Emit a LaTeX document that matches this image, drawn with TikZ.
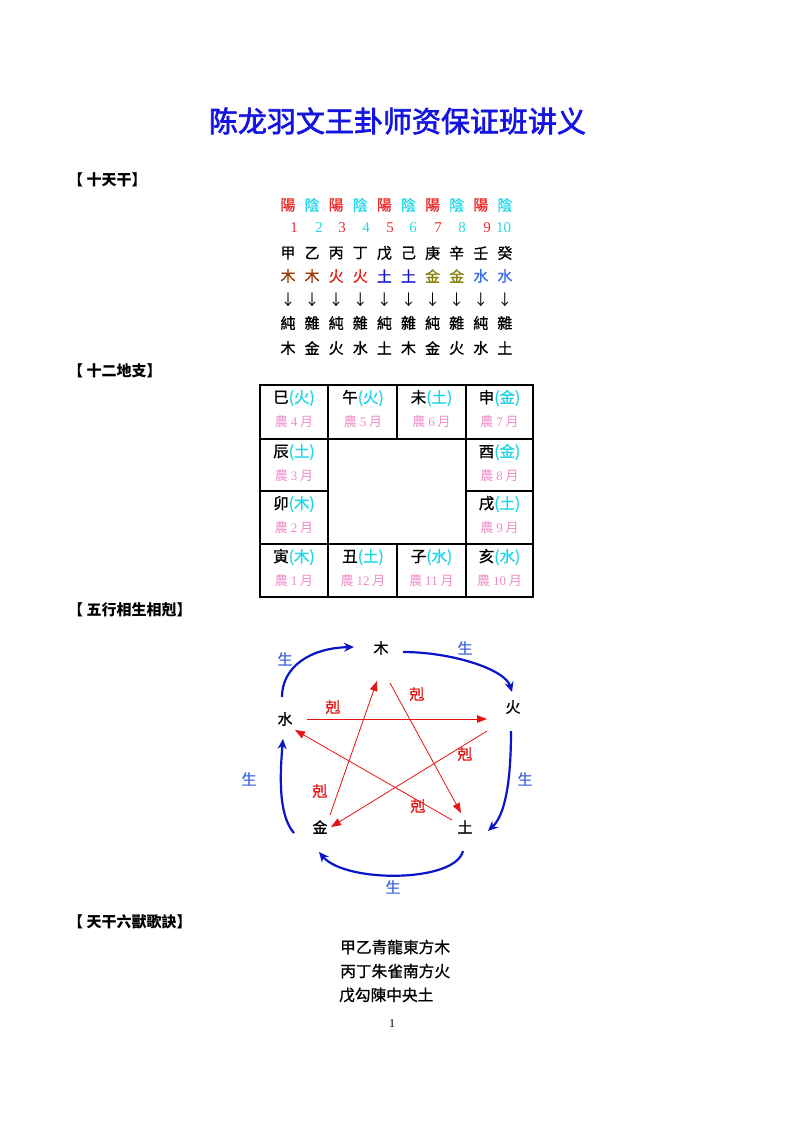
\documentclass[tikz,border=0pt]{standalone}
\usepackage{fontspec}
\usetikzlibrary{arrows.meta,calc}
\newfontfamily\cjk{Noto Sans CJK SC}[FakeBold=1.0]
\newfontfamily\cjkp{Noto Sans CJK SC}
\newfontfamily\cjkt{Noto Sans CJK SC}[FakeBold=2.2]
\newfontfamily\sernum{Liberation Serif}
\definecolor{yang}{RGB}{235,45,45}
\definecolor{yin}{RGB}{40,215,230}
\definecolor{wood}{RGB}{150,60,10}
\definecolor{fire}{RGB}{230,30,30}
\definecolor{earth}{RGB}{20,20,210}
\definecolor{metal}{RGB}{140,130,20}
\definecolor{water}{RGB}{60,110,240}
\definecolor{tcyan}{RGB}{30,215,230}
\definecolor{tpink}{RGB}{240,140,200}
\definecolor{ttl}{RGB}{20,20,225}
\definecolor{sarrow}{RGB}{10,20,200}
\definecolor{slabel}{RGB}{60,100,220}
\definecolor{karrow}{RGB}{230,20,20}
\tikzset{
  txt/.style={inner sep=0pt,font=\cjk\fontsize{15}{15}\selectfont},
  num/.style={inner sep=0pt,font=\sernum\fontsize{15}{15}\selectfont},
  head/.style={inner sep=0pt,anchor=west,font=\cjkp\bfseries\fontsize{15}{15}\selectfont},
  cellA/.style={inner sep=0pt,font=\cjk\fontsize{15.5}{15.5}\selectfont},
  cellB/.style={inner sep=0pt,text=tpink,font=\cjkp\fontsize{13}{13}\selectfont},
  grid/.style={line width=2pt,line cap=rect},
  elem/.style={inner sep=0pt,font=\cjk\fontsize{15}{15}\selectfont},
  sheng/.style={sarrow,line width=2.2pt,-{Stealth[length=10pt,width=9pt]}},
  ke/.style={karrow,line width=0.8pt,-{Triangle[length=10pt,width=7.5pt]}},
  slab/.style={inner sep=0pt,text=slabel,font=\cjk\fontsize{15}{15}\selectfont},
  klab/.style={inner sep=0pt,text=karrow,font=\cjk\fontsize{15}{15}\selectfont},
  arr/.style={inner sep=0pt,font=\cjkp\fontsize{15}{15}\selectfont},
}
\newcommand\dzcell[6]{%
  \node[cellA] (#6a) at (#1,#2+13) {#3\textcolor{tcyan}{(#4)}};
  \node[cellB] (#6b) at (#1,#2+37) {農 {\sernum #5} 月};
}
\begin{document}
\begin{tikzpicture}[x=1pt,y=-1pt]
\useasboundingbox[fill=white] (0,0) rectangle (793,1122);
% title
\node[inner sep=0pt,text=ttl,font=\cjkt\fontsize{29}{29}\selectfont] (title) at (397.5,121) {陈龙羽文王卦师资保证班讲义};
% headings
\node[head] (h1) at (68,180) {【 十天干】};
\node[head] (h2) at (68,371) {【 十二地支】};
\node[head] (h3) at (68,610) {【 五行相生相剋】};
\node[head] (h4) at (68,922) {【 天干六獸歌訣】};
% ten stems
\foreach \c/\col [count=\i] in {陽/yang,陰/yin,陽/yang,陰/yin,陽/yang,陰/yin,陽/yang,陰/yin,陽/yang,陰/yin}
  \node[txt,text=\col] (yy\i) at ({288+24.1*(\i-1)},205) {\c};
\foreach \n/\x/\col [count=\i] in {1/294/yang,2/319/yin,3/342/yang,4/366/yin,5/390/yang,6/413/yin,7/438/yang,8/462/yin,9/487/yang,10/503.5/yin}
  \node[num,text=\col] (nn\i) at (\x,228) {\n};
\foreach \c [count=\i] in {甲,乙,丙,丁,戊,己,庚,辛,壬,癸}
  \node[txt] (gan\i) at ({288+24.1*(\i-1)},253) {\c};
\foreach \c/\col [count=\i] in {木/wood,木/wood,火/fire,火/fire,土/earth,土/earth,金/metal,金/metal,水/water,水/water}
  \node[txt,text=\col] (wx\i) at ({288+24.1*(\i-1)},276) {\c};
\foreach \i in {1,...,10}
  \node[arr] (ar\i) at ({288+24.1*(\i-1)},300) {↓};
\foreach \c [count=\i] in {純,雜,純,雜,純,雜,純,雜,純,雜}
  \node[txt] (cz\i) at ({288+24.1*(\i-1)},323) {\c};
\foreach \c [count=\i] in {木,金,火,水,土,木,金,火,水,土}
  \node[txt] (nw\i) at ({288+24.1*(\i-1)},348) {\c};
% twelve branches table
\draw[grid] (260,385) rectangle (533,597);
\draw[grid] (260,439) -- (533,439);
\draw[grid] (260,544) -- (533,544);
\draw[grid] (260,491) -- (328.3,491);
\draw[grid] (465.7,491) -- (533,491);
\draw[grid] (328.3,385) -- (328.3,597);
\draw[grid] (465.7,385) -- (465.7,597);
\draw[grid] (397.3,385) -- (397.3,439);
\draw[grid] (397.3,544) -- (397.3,597);
\dzcell{294}{385}{巳}{火}{4}{si}
\dzcell{363}{385}{午}{火}{5}{wu}
\dzcell{431.5}{385}{未}{土}{6}{wei}
\dzcell{499.5}{385}{申}{金}{7}{shen}
\dzcell{294}{439}{辰}{土}{3}{chen}
\dzcell{499.5}{439}{酉}{金}{8}{you}
\dzcell{294}{491}{卯}{木}{2}{mao}
\dzcell{499.5}{491}{戌}{土}{9}{xu}
\dzcell{294}{544}{寅}{木}{1}{yin}
\dzcell{363}{544}{丑}{土}{12}{chou}
\dzcell{431.5}{544}{子}{水}{11}{zi}
\dzcell{499.5}{544}{亥}{水}{10}{hai}
% five elements
\node[elem] (mu) at (381,648) {木};
\node[elem] (huo) at (513,707) {火};
\node[elem] (tu) at (465,827) {土};
\node[elem] (jin) at (320,827) {金};
\node[elem] (shui) at (285,719) {水};
% sheng (blue curves)
\draw[sheng] ($(shui)+(-3,-22)$) .. controls ($(shui)+(-3,-52)$) and ($(mu)+(-71,0)$) .. ($(mu)+(-27,-1)$);
\draw[sheng] ($(mu)+(22,4)$) .. controls ($(mu)+(70,4)$) and ($(huo)+(-8,-38)$) .. ($(huo)+(-1,-15)$);
\draw[sheng] ($(huo)+(-2,24)$) .. controls ($(huo)+(-2,75)$) and ($(tu)+(40,-12)$) .. ($(tu)+(23,4)$);
\draw[sheng] ($(tu)+(-2,24)$) .. controls ($(tu)+(-10,56)$) and ($(jin)+(25,56)$) .. ($(jin)+(-1,25)$);
\draw[sheng] ($(jin)+(-26,6)$) .. controls ($(jin)+(-42,-12)$) and ($(shui)+(-5,55)$) .. ($(shui)+(-2,20)$);
% ke (red straight)
\draw[ke] ($(shui)+(22,0)$) -- ($(huo)+(-26,12)$);
\draw[ke] ($(huo)+(-26,24)$) -- ($(jin)+(11,0)$);
\draw[ke] ($(jin)+(10,-12)$) -- ($(mu)+(-4,33)$);
\draw[ke] ($(mu)+(9,35)$) -- ($(tu)+(-4,-14)$);
\draw[ke] ($(tu)+(-13,-7)$) -- ($(shui)+(10,11)$);
% labels
\node[slab] (s1) at (285,659) {生};
\node[slab] (s2) at (465,648) {生};
\node[slab] (s3) at (525,779) {生};
\node[slab] (s4) at (393,887) {生};
\node[slab] (s5) at (249,779) {生};
\node[klab] (k1) at (333,707) {剋};
\node[klab] (k2) at (417,694) {剋};
\node[klab] (k3) at (465,754) {剋};
\node[klab] (k4) at (320,791) {剋};
\node[klab] (k5) at (418,806) {剋};
% six beasts
\node[txt,anchor=west,font=\cjk\fontsize{15.7}{15.7}\selectfont] (b1) at (340,947) {甲乙青龍東方木};
\node[txt,anchor=west,font=\cjk\fontsize{15.7}{15.7}\selectfont] (b2) at (340,971) {丙丁朱雀南方火};
\node[txt,anchor=west,font=\cjk\fontsize{15.7}{15.7}\selectfont] (b3) at (339,995) {戊勾陳中央土};
\node[num,font=\sernum\fontsize{12}{12}\selectfont] (pg) at (392,1024) {1};
\end{tikzpicture}
\end{document}
